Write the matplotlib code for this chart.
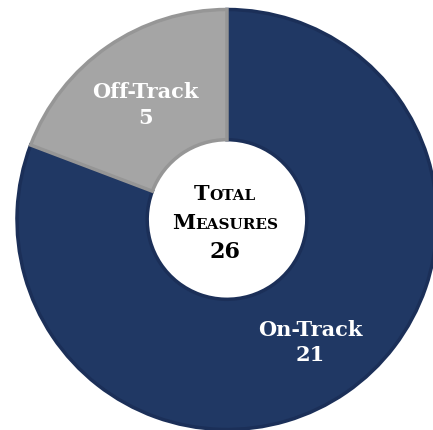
import matplotlib
matplotlib.use("Agg")
import matplotlib.pyplot as plt
from matplotlib.offsetbox import TextArea, HPacker, VPacker, AnnotationBbox

# %% data
labels = ["On-Track", "Off-Track"]
values = [21, 5]
total = sum(values)
fill_colors = ["#203864", "#a5a5a5"]
edge_colors = ["#1b2f58", "#969696"]

serif = "DejaVu Serif"

fig = plt.figure(figsize=(4.33, 4.30), dpi=100)
ax = fig.add_axes([0, 0, 1, 1])

wedges, _ = ax.pie(values, startangle=90, counterclock=False, radius=1,
                   colors=fill_colors,
                   wedgeprops=dict(width=0.62, linewidth=2.5))
for w, ec in zip(wedges, edge_colors):
    w.set_edgecolor(ec)

# wedge labels (centre of block, data coords)
label_pos = [(0.395, -0.585), (-0.39, 0.545)]
for lab, v, (x, y) in zip(labels, values, label_pos):
    ax.text(x, y, f"{lab}\n{v}", ha="center", va="center", color="white",
            fontsize=15, fontweight="bold", family=serif, linespacing=1.35)


# small caps centre text
def smallcaps(word, big=15, small=11):
    parts = [TextArea(word[0], textprops=dict(size=big, weight="bold", family=serif, color="black")),
             TextArea(word[1:], textprops=dict(size=small, weight="bold", family=serif, color="black"))]
    return HPacker(children=parts, align="baseline", pad=0, sep=0)


num = TextArea(str(total), textprops=dict(size=16, weight="bold", family=serif, color="black"))
block = VPacker(children=[smallcaps("TOTAL"), smallcaps("MEASURES"), num],
                align="center", pad=0, sep=6)
ab = AnnotationBbox(block, (-0.01, -0.02), xycoords="data", frameon=False,
                    box_alignment=(0.5, 0.5))
ax.add_artist(ab)

# centre (227, 219.5) px, radius 210 px in a 433x430 canvas
s = 210.0
ax.set_xlim(-227 / s, (433 - 227) / s)
ax.set_ylim(-(430 - 219.5) / s, 219.5 / s)
ax.set_aspect("auto")
ax.axis("off")

fig.savefig("out.png", dpi=100)
